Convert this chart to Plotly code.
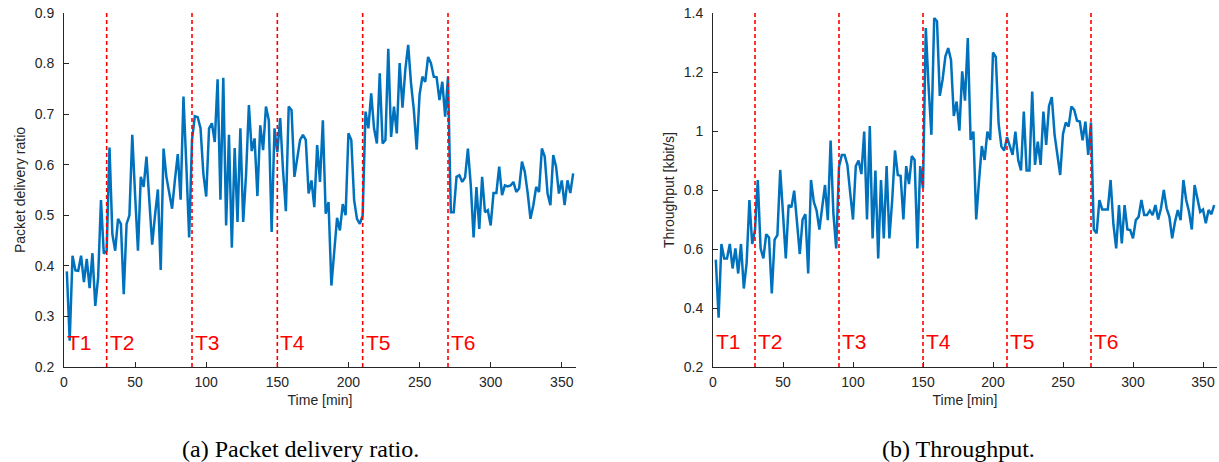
import plotly.graph_objects as go

# Sampling grid (minutes)
TIME_MIN = list(range(2, 360, 2))

PDR = [0.389, 0.252, 0.420, 0.391, 0.390, 0.420, 0.368, 0.414, 0.356, 0.425,
       0.321, 0.377, 0.530, 0.424, 0.430, 0.634, 0.463, 0.430, 0.493, 0.483,
       0.344, 0.483, 0.500, 0.659, 0.540, 0.430, 0.576, 0.556, 0.616, 0.530,
       0.442, 0.500, 0.551, 0.392, 0.632, 0.576, 0.545, 0.513, 0.570, 0.621,
       0.531, 0.735, 0.600, 0.456, 0.649, 0.696, 0.694, 0.672, 0.582, 0.537,
       0.672, 0.682, 0.645, 0.769, 0.531, 0.772, 0.480, 0.659, 0.436, 0.633,
       0.487, 0.672, 0.487, 0.580, 0.718, 0.627, 0.652, 0.538, 0.678, 0.629,
       0.715, 0.688, 0.467, 0.672, 0.625, 0.692, 0.589, 0.508, 0.715, 0.708,
       0.576, 0.616, 0.649, 0.659, 0.649, 0.543, 0.569, 0.516, 0.639, 0.566,
       0.688, 0.503, 0.526, 0.361, 0.427, 0.495, 0.470, 0.522, 0.500, 0.662,
       0.649, 0.530, 0.493, 0.483, 0.500, 0.705, 0.672, 0.741, 0.672, 0.642,
       0.781, 0.642, 0.649, 0.829, 0.655, 0.715, 0.662, 0.801, 0.713, 0.788,
       0.837, 0.761, 0.708, 0.630, 0.738, 0.774, 0.764, 0.813, 0.801, 0.774,
       0.773, 0.728, 0.764, 0.695, 0.774, 0.506, 0.506, 0.576, 0.579, 0.566,
       0.575, 0.632, 0.560, 0.456, 0.556, 0.473, 0.576, 0.506, 0.510, 0.480,
       0.544, 0.544, 0.596, 0.540, 0.559, 0.557, 0.559, 0.566, 0.546, 0.553,
       0.606, 0.586, 0.545, 0.493, 0.520, 0.556, 0.546, 0.632, 0.616, 0.543,
       0.520, 0.619, 0.596, 0.543, 0.569, 0.520, 0.569, 0.544, 0.583]

THROUGHPUT = [0.564, 0.367, 0.617, 0.568, 0.568, 0.617, 0.534, 0.602, 0.517, 0.617,
              0.466, 0.551, 0.766, 0.617, 0.664, 0.834, 0.602, 0.568, 0.650, 0.639,
              0.449, 0.632, 0.647, 0.868, 0.720, 0.568, 0.749, 0.741, 0.798, 0.680,
              0.583, 0.700, 0.718, 0.517, 0.834, 0.760, 0.730, 0.666, 0.740, 0.817,
              0.698, 0.968, 0.720, 0.602, 0.879, 0.919, 0.919, 0.885, 0.790, 0.700,
              0.881, 0.900, 0.854, 0.998, 0.700, 1.017, 0.636, 0.866, 0.568, 0.834,
              0.636, 0.881, 0.636, 0.766, 0.934, 0.851, 0.848, 0.700, 0.881, 0.820,
              0.915, 0.902, 0.602, 0.881, 0.806, 1.349, 1.150, 0.987, 1.383, 1.372,
              1.119, 1.174, 1.253, 1.281, 1.241, 1.051, 1.100, 1.001, 1.202, 1.103,
              1.315, 0.970, 0.998, 0.700, 0.830, 0.949, 0.902, 0.998, 0.970, 1.266,
              1.251, 1.026, 0.947, 0.934, 0.979, 0.947, 0.919, 0.998, 0.902, 0.866,
              1.066, 0.866, 0.866, 1.134, 0.885, 0.964, 0.885, 1.066, 0.953, 1.085,
              1.115, 0.987, 0.925, 0.851, 0.990, 1.029, 1.015, 1.083, 1.072, 1.035,
              1.032, 0.968, 1.032, 0.919, 1.029, 0.666, 0.653, 0.766, 0.734, 0.734,
              0.734, 0.834, 0.684, 0.602, 0.749, 0.619, 0.749, 0.666, 0.664, 0.636,
              0.698, 0.709, 0.766, 0.715, 0.715, 0.730, 0.715, 0.749, 0.700, 0.738,
              0.800, 0.738, 0.709, 0.636, 0.692, 0.732, 0.698, 0.834, 0.766, 0.726,
              0.666, 0.817, 0.772, 0.726, 0.734, 0.687, 0.732, 0.718, 0.749]

PHASE_STARTS = [0, 30, 90, 150, 210, 270]
PHASE_LABELS = ["T1", "T2", "T3", "T4", "T5", "T6"]
PHASE_LINES = [30, 90, 150, 210, 270]

X_TICKS = [0, 50, 100, 150, 200, 250, 300, 350]
Y_TICKS_A = [0.2, 0.3, 0.4, 0.5, 0.6, 0.7, 0.8, 0.9]
Y_TICKS_B = [0.2, 0.4, 0.6, 0.8, 1.0, 1.2, 1.4]
Y_TICKTEXT_B = ["0.2", "0.4", "0.6", "0.8", "1", "1.2", "1.4"]

W, H = 1219, 462
AX_COLOR = "#262626"
LINE_BLUE = "#0072BD"
FONT = "Liberation Sans"

fig = go.Figure()
fig.add_trace(go.Scatter(x=TIME_MIN, y=PDR, mode="lines",
                         line=dict(color=LINE_BLUE, width=2.5),
                         xaxis="x", yaxis="y", showlegend=False))
fig.add_trace(go.Scatter(x=TIME_MIN, y=THROUGHPUT, mode="lines",
                         line=dict(color=LINE_BLUE, width=2.5),
                         xaxis="x2", yaxis="y2", showlegend=False))

ydom = [(H - 367) / H, (H - 13) / H]
common_x = dict(range=[0, 360], tickvals=X_TICKS, ticks="inside", ticklen=5,
                tickcolor=AX_COLOR, showline=True, linecolor=AX_COLOR, linewidth=1,
                showgrid=False, zeroline=False, automargin=False, ticklabelstandoff=2,
                tickfont=dict(family=FONT, size=14, color=AX_COLOR),
                title=dict(text="Time [min]", font=dict(family=FONT, size=14, color=AX_COLOR),
                           standoff=6))
common_y = dict(ticks="inside", ticklen=5, tickcolor=AX_COLOR, showline=True,
                linecolor=AX_COLOR, linewidth=1, showgrid=False, zeroline=False,
                automargin=False, ticklabelstandoff=6,
                tickfont=dict(family=FONT, size=14, color=AX_COLOR))

fig.update_layout(
    width=W, height=H, autosize=False,
    margin=dict(l=0, r=0, t=0, b=0, pad=0),
    paper_bgcolor="white", plot_bgcolor="white",
    xaxis=dict(domain=[64 / W, 576 / W], anchor="y", **common_x),
    yaxis=dict(domain=ydom, anchor="x", range=[0.2, 0.9], tickvals=Y_TICKS_A,
               ticktext=[f"{v:.1f}" for v in Y_TICKS_A],
               title=dict(text="Packet delivery ratio",
                          font=dict(family=FONT, size=14, color=AX_COLOR), standoff=5),
               **common_y),
    xaxis2=dict(domain=[713 / W, 1217 / W], anchor="y2", **common_x),
    yaxis2=dict(domain=ydom, anchor="x2", range=[0.2, 1.4], tickvals=Y_TICKS_B,
                ticktext=Y_TICKTEXT_B,
                title=dict(text="Throughput [kbit/s]",
                           font=dict(family=FONT, size=14, color=AX_COLOR), standoff=5),
                **common_y),
)

shapes = []
annotations = []
for xa, ya, ylab in [("x", "y", 0.248), ("x2", "y2", 0.285)]:
    for t in PHASE_LINES:
        shapes.append(dict(type="line", xref=xa, yref=ya + " domain", x0=t, x1=t, y0=0, y1=1,
                           line=dict(color="#FF0000", width=1.6, dash="4px,3px")))
    for t, lab in zip(PHASE_STARTS, PHASE_LABELS):
        annotations.append(dict(x=t, y=ylab, xref=xa, yref=ya, text=lab, showarrow=False,
                                xanchor="left", yanchor="middle", xshift=1,
                                font=dict(family=FONT, size=21, color="#FF0000")))

annotations.append(dict(x=300 / W, y=(H - 449) / H, xref="paper", yref="paper",
                        text="(a) Packet delivery ratio.", showarrow=False,
                        xanchor="center", yanchor="middle",
                        font=dict(family="Liberation Serif", size=24, color="black")))
annotations.append(dict(x=958 / W, y=(H - 449) / H, xref="paper", yref="paper",
                        text="(b) Throughput.", showarrow=False,
                        xanchor="center", yanchor="middle",
                        font=dict(family="Liberation Serif", size=24, color="black")))

fig.update_layout(shapes=shapes, annotations=annotations)

fig.write_html("out.html",
               config={"displayModeBar": False, "responsive": False},
               post_script="document.body.style.margin='0';document.body.style.overflow='hidden';")
